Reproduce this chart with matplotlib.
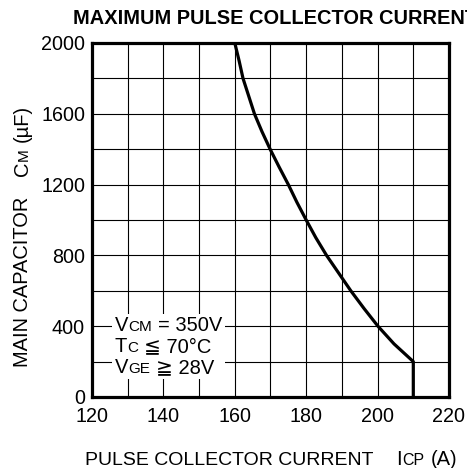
import matplotlib
matplotlib.use('Agg')
import matplotlib.pyplot as plt
from matplotlib.offsetbox import TextArea, HPacker, VPacker, AnnotationBbox, DrawingArea

plt.rcParams['font.family'] = ['Liberation Sans', 'DejaVu Sans']

# ---- data ----
cm = [2000, 1900, 1800, 1700, 1600, 1500, 1400, 1300, 1200, 1100, 1000,
      900, 800, 700, 600, 500, 400, 300, 200, 0]
icp = [160, 161.2, 162.3, 163.9, 165.5, 167.6, 169.9, 172.4, 175.0, 177.4, 180,
       182.7, 185.7, 189.1, 192.5, 196.2, 200.1, 204.6, 210, 210]
x_ticks = [120, 140, 160, 180, 200, 220]
y_ticks = [0, 400, 800, 1200, 1600, 2000]
x_grid = [130, 150, 170, 190, 210]
y_grid = [200, 600, 1000, 1400, 1800]
title = "MAXIMUM PULSE COLLECTOR CURRENT"
# (text, fontsize, gap before in px)
xlabel_parts = [("PULSE COLLECTOR CURRENT", 14, 0), ("I", 14.5, 23), ("CP", 11.5, 0), ("(A)", 14.5, 6)]
ylabel_parts = [("MAIN CAPACITOR", 14.4, 0), ("C", 14.5, 21), ("M", 11, 0), ("(µF)", 14.5, 6)]
note_lines = [
    [("V", 14.5), ("CM", 11), (" = 350V", 14.5)],
    [("T", 14.5), ("C", 11), (" ≦ 70°C", 14.5)],
    [("V", 14.5), ("GE", 11), (" ≧ 28V", 14.5)],
]

W, H = 467, 468
fig = plt.figure(figsize=(W / 100, H / 100), dpi=100)
ax = fig.add_axes([92 / W, 1 - 397 / H, (449 - 92) / W, (397 - 43) / H])

ax.set_xlim(120, 220)
ax.set_ylim(0, 2000)
ax.set_xticks(x_ticks)
ax.set_yticks(y_ticks)
ax.set_xticks(x_grid, minor=True)
ax.set_yticks(y_grid, minor=True)
ax.tick_params(which='both', length=0)
ax.tick_params(axis='x', labelsize=14.2, pad=7)
ax.tick_params(axis='y', labelsize=14.2, pad=5)
ax.grid(which='both', color='black', linewidth=0.8)
ax.set_axisbelow(True)
for s in ax.spines.values():
    s.set_linewidth(2.3)
    s.set_zorder(5)

ax.plot(icp, cm, color='black', linewidth=2.3, zorder=4, solid_joinstyle='round')

# note box
def make_line(parts):
    children = []
    for s, size in parts:
        n = len(s) - len(s.lstrip(' '))
        if n:
            children.append(DrawingArea(n * 0.278 * size, 0.1))
        children.append(TextArea(s.lstrip(' '), textprops=dict(fontsize=size, color='black')))
    return HPacker(children=children, sep=0, pad=0, align='baseline')

vbox = VPacker(children=[make_line(l) for l in note_lines], sep=1.2, pad=0, align='left')
ab = AnnotationBbox(vbox, (126.4, 285), xycoords='data', box_alignment=(0, 0.5),
                    frameon=True, pad=0.2, bboxprops=dict(fc='white', ec='none'))
ab.set_zorder(3)
ax.add_artist(ab)

# rich text helper
renderer = fig.canvas.get_renderer()

def rich_text(x_px, y_px, parts, rotation=0):
    for s, size, gap in parts:
        if rotation == 90:
            y_px += gap
        else:
            x_px += gap
        t = fig.text(x_px / W, y_px / H, s, fontsize=size, rotation=rotation,
                     rotation_mode='anchor', ha='left', va='baseline')
        bb = t.get_window_extent(renderer)
        if rotation == 90:
            y_px += bb.height
        else:
            x_px += bb.width

rich_text(85, H - 465, xlabel_parts)
rich_text(28, H - 367, ylabel_parts, rotation=90)
fig.text(73 / W, 1 - 24 / H, title, fontsize=14.4, fontweight='bold', ha='left', va='baseline')

fig.savefig('out.png', dpi=100)
